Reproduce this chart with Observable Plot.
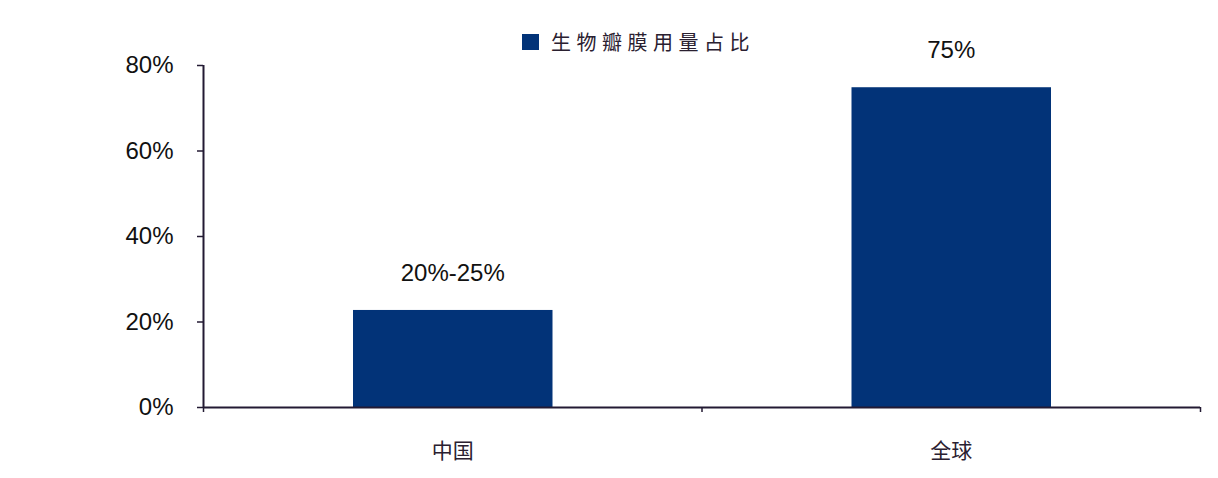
<!DOCTYPE html>
<html><head><meta charset="utf-8">
<script src="https://cdn.jsdelivr.net/npm/d3@7"></script>
<script src="https://cdn.jsdelivr.net/npm/@observablehq/plot@0.6"></script>
<style>
body{margin:0;background:#fff;}
#wrap{position:relative;width:1218px;height:478px;}
#legend{position:absolute;left:522px;top:27px;display:flex;align-items:center;font-family:"Noto Sans CJK SC";font-size:20px;letter-spacing:5.5px;color:#2a2030;}
#legend span.sw{display:inline-block;width:17px;height:16px;background:#023378;margin-right:12px;}
</style></head>
<body><div id="wrap"><div id="legend"><span class="sw"></span><span id="ltext"></span></div></div>
<script>
const seriesName = "生物瓣膜用量占比";
const categories = ["中国", "全球"];
const values = [0.227, 0.748];
const valueLabels = ["20%-25%", "75%"];
const yTicks = [0, 0.2, 0.4, 0.6, 0.8];

document.getElementById("ltext").textContent = seriesName;
const data = categories.map((c, i) => ({cat: c, i, v: values[i], label: valueLabels[i]}));
const axisColor = "#231a33";
const chart = Plot.plot({
  width: 1218, height: 478,
  marginLeft: 203, marginRight: 18, marginTop: 65, marginBottom: 71,
  x: {domain: [0, categories.length], axis: null},
  y: {domain: [0, 0.8], axis: null},
  style: {fontFamily: "Liberation Sans, Arial, sans-serif"},
  marks: [
    Plot.rectY(data, {x1: d => d.i, x2: d => d.i + 1, y1: 0, y2: "v", fill: "#023378", insetLeft: 150, insetRight: 149}),
    Plot.ruleX([0], {y1: 0, y2: 0.8, stroke: axisColor, strokeWidth: 2}),
    Plot.ruleY([0], {x1: 0, x2: categories.length, stroke: axisColor, strokeWidth: 2}),
    Plot.axisY({ticks: yTicks, tickFormat: d => Math.round(d * 100) + "%", tickSize: 6, tickPadding: 24, fontSize: 24, color: "#111", stroke: axisColor, strokeWidth: 1.5, label: null}),
    Plot.axisX({ticks: d3.range(categories.length + 1), tickFormat: () => "", tickSize: 5, stroke: axisColor, strokeWidth: 1.5, label: null}),
    Plot.text(data, {x: d => d.i + 0.5, y: 0, text: "cat", dy: 44, fontSize: 21, fill: "#2a2030", fontFamily: "Noto Sans CJK SC", style: "letter-spacing:5px"}),
    Plot.text(data, {x: d => d.i + 0.5, y: "v", text: "label", dy: -37, fontSize: 24, fill: "#111"})
  ]
});
document.getElementById("wrap").appendChild(chart);
</script></body></html>
